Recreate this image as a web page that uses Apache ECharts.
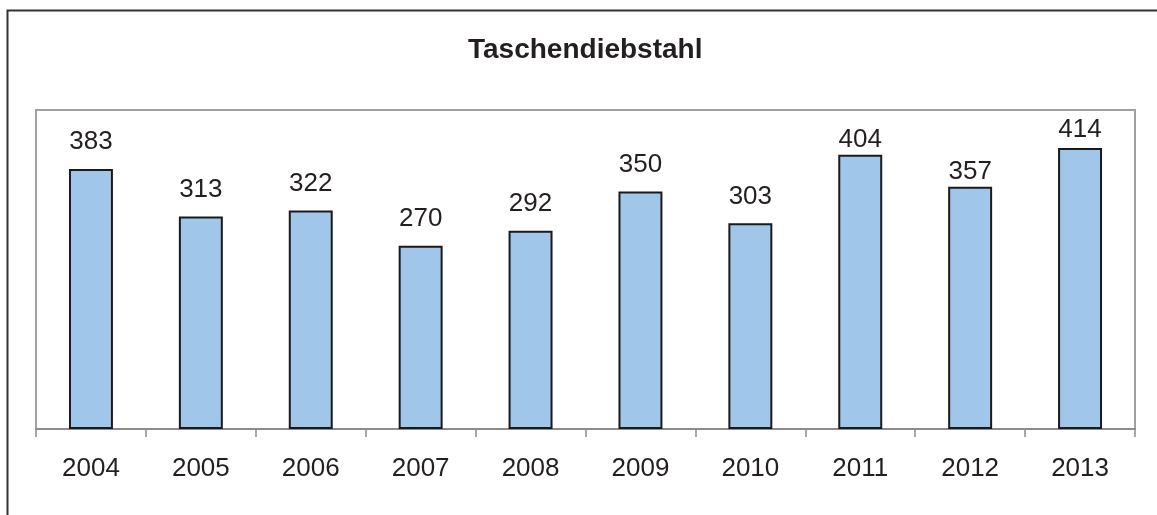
<!DOCTYPE html>
<html>
<head>
<meta charset="utf-8">
<script src="https://cdn.jsdelivr.net/npm/echarts@6/dist/echarts.min.js"></script>
<style>
	html, body { margin: 0; padding: 0; background: #fff; }
	#main { width: 1157px; height: 515px; }
</style>
</head>
<body>
<div id="main"></div>
<script>
// Data
const years = ['2004', '2005', '2006', '2007', '2008', '2009', '2010', '2011', '2012', '2013']
const values = [383, 313, 322, 270, 292, 350, 303, 404, 357, 414]
// label gap above each bar (the high ones sit closer to the bar)
const labelGap = [14, 14, 14, 14, 14, 14, 14, 2, 2, 5]

const myChart = echarts.init(document.getElementById('main'))

myChart.setOption({
	animation: false,
	textStyle: { fontFamily: 'Liberation Sans, Arial, sans-serif' },
	title: {
		text: 'Taschendiebstahl',
		left: 463,
		top: 31,
		textStyle: { fontSize: 28, fontWeight: 'bold', color: '#231f20' }
	},
	graphic: [
		{
			type: 'polyline',
			shape: { points: [[7.5, 515], [7.5, 10.5], [1157, 10.5]] },
			style: { stroke: '#333', lineWidth: 2, fill: null }
		}
	],
	grid: {
		left: 36,
		right: 22,
		top: 110,
		bottom: 86,
		show: true,
		borderColor: '#a0a0a0',
		borderWidth: 2
	},
	xAxis: {
		type: 'category',
		data: years,
		axisLine: { show: true, lineStyle: { color: '#8c8c8c', width: 2 } },
		axisTick: { show: true, alignWithLabel: false, length: 8, lineStyle: { color: '#8c8c8c', width: 1.5 } },
		axisLabel: { fontSize: 26, color: '#231f20', margin: 27 }
	},
	yAxis: {
		type: 'value',
		min: 0,
		max: 470,
		show: false,
		splitLine: { show: false }
	},
	series: [
		{
			type: 'bar',
			barWidth: '40%',
			data: values.map((v, i) => ({
				value: v,
				label: { distance: labelGap[i] }
			})),
			itemStyle: {
				color: '#a0c6ea',
				borderColor: '#1a1a1a',
				borderWidth: 2
			},
			label: {
				show: true,
				position: 'top',
				fontSize: 26,
				color: '#231f20'
			}
		}
	]
})
</script>
</body>
</html>
